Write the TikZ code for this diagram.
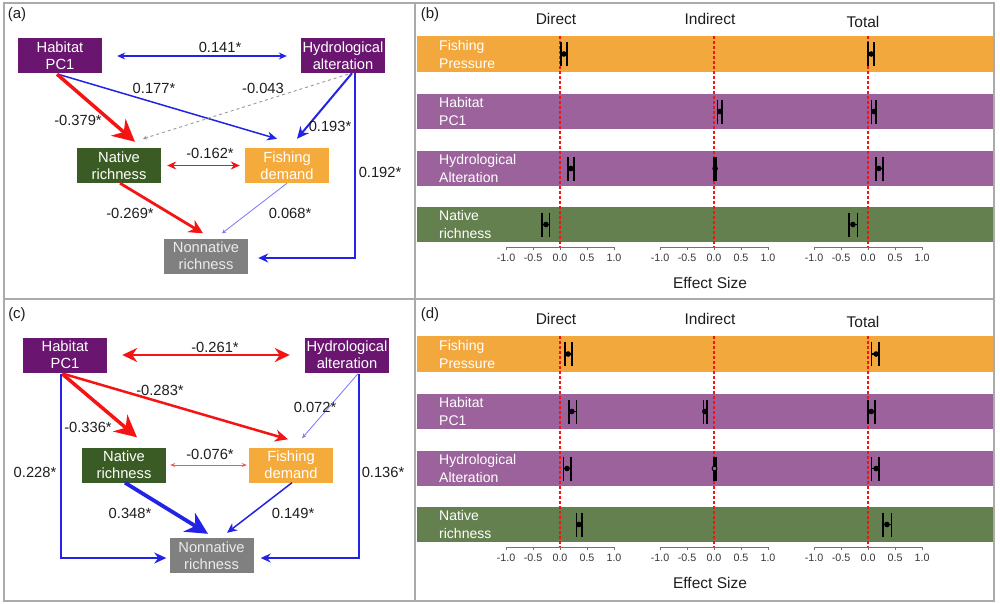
\documentclass[tikz,border=0pt]{standalone}
\usepackage{fontspec}
\setmainfont{Liberation Sans}
\usetikzlibrary{arrows.meta,calc}
\definecolor{boxpurple}{RGB}{106,22,112}
\definecolor{boxgreen}{RGB}{58,92,36}
\definecolor{boxorange}{RGB}{245,170,60}
\definecolor{boxgray}{RGB}{128,128,128}
\definecolor{bandorange}{RGB}{242,168,60}
\definecolor{bandpurple}{RGB}{156,98,156}
\definecolor{bandgreen}{RGB}{99,128,78}
\definecolor{pred}{RGB}{245,20,20}
\definecolor{pblue}{RGB}{35,35,230}
\definecolor{lblue}{RGB}{120,120,250}
\definecolor{lred}{RGB}{240,90,90}
\definecolor{framegray}{RGB}{170,170,170}
\definecolor{txt}{RGB}{30,30,30}
\newcommand\errbar[5]{%
  \draw[ebline] ({#1+54*(#3)},{#2-12}) -- ({#1+54*(#3)},{#2+12});
  \draw[ebline] ({#1+54*(#5)},{#2-12}) -- ({#1+54*(#5)},{#2+12});
  \draw[ebline] ({#1+54*(#3)},#2) -- ({#1+54*(#5)},#2);
  \fill ({#1+54*(#4)},#2) circle (2.8);}
\newcommand\forestframe{%
  \fill[bandorange] (417,36) rectangle (993,72);
  \fill[bandpurple] (417,94) rectangle (993,129);
  \fill[bandpurple] (417,151) rectangle (993,186);
  \fill[bandgreen] (417,207) rectangle (993,242);
  \node[bandlab] (l1) at (439,54) {Fishing\\Pressure};
  \node[bandlab] (l2) at (439,111.5) {Habitat\\PC1};
  \node[bandlab] (l3) at (439,168.5) {Hydrological\\Alteration};
  \node[bandlab] (l4) at (439,224.5) {Native\\richness};
  \node[head] (hd) at (556,19) {Direct};
  \node[head] (hi) at (710,19) {Indirect};
  \node[head] (ht) at (863,22) {Total};
  \foreach \z in {560,714,868}{
    \draw[zeroline] (\z,36) -- (\z,247);
    \draw[axisline] ({\z-54},247) -- ({\z+54},247);
    \foreach \t/\s in {-1/-1.0,-0.5/-0.5,0/0.0,0.5/0.5,1/1.0}{
      \draw[axisline] ({\z+54*(\t)},247) -- ({\z+54*(\t)},250);
      \node[tick] at ({\z+54*(\t)},257.5) {\s};}}
  \node[head] (es) at (710,283) {Effect Size};}
\begin{document}
\begin{tikzpicture}[x=1pt,y=-1pt,
  box/.style={rectangle, minimum width=84pt, minimum height=35pt, inner sep=1pt, text=white, align=center, font=\fontsize{14.7}{17}\selectfont},
  lab/.style={font=\fontsize{14.7}{17}\selectfont, text=txt, inner sep=0pt},
  plabel/.style={font=\fontsize{15}{18}\selectfont, text=txt, inner sep=0pt},
  bandlab/.style={anchor=west, align=left, text=white, font=\fontsize{14}{18}\selectfont, inner sep=0pt},
  head/.style={font=\fontsize{15.5}{18}\selectfont, text=txt, inner sep=0pt},
  tick/.style={font=\fontsize{10.7}{12}\selectfont, text=black!78, inner sep=0pt},
  zeroline/.style={pred, line width=1.7pt, dash pattern=on 2.5pt off 2.5pt},
  axisline/.style={black!55, line width=0.7pt},
  ebline/.style={black, line width=1.4pt},
]
\useasboundingbox (0,0) rectangle (1000,603);
\fill[white] (0,0) rectangle (1000,603);

% ---------- panel (a)
\node[plabel] (pa) at (17,15) {(a)};
\node[box, fill=boxpurple] (hab) at (60,55.5) {Habitat\\PC1};
\node[box, fill=boxpurple] (hyd) at (343,55.5) {Hydrological\\alteration};
\node[box, fill=boxgreen] (nat) at (119,165.5) {Native\\richness};
\node[box, fill=boxorange] (fis) at (287,165.5) {Fishing\\demand};
\node[box, fill=boxgray, text=white!92!black] (non) at (206,256) {Nonnative\\richness};

\draw[pblue, line width=1.2pt, {Stealth[length=8pt,width=7pt]}-{Stealth[length=8pt,width=7pt]}, shorten <=15pt, shorten >=14pt] (hab.east |- 0,56) -- (hyd.west |- 0,56);
\draw[pblue, line width=1.5pt, -{Stealth[length=10pt,width=9pt]}] ($(hab.south)+(-2,1)$) -- ($(fis.north)+(-10,-9)$);
\draw[pred, line width=3.5pt, -{Stealth[length=22pt,width=22pt]}] ($(hab.south)+(-3,1)$) -- ($(nat.north)+(16,-6)$);
\draw[black!40, line width=0.9pt, dashed, -{Stealth[length=4pt,width=4pt]}] ($(hyd.south)+(5,1)$) -- ($(nat.north)+(24,-9)$);
\draw[pblue, line width=2pt, -{Stealth[length=12pt,width=11pt]}] ($(hyd.south)+(9,0)$) -- ($(fis.north)+(10,-9)$);
\draw[pblue, line width=1.5pt, -{Stealth[length=10pt,width=9pt]}] ($(hyd.south)+(12,0)$) |- ($(non.east)+(10,2)$);
\draw[pred, line width=1.5pt, {Stealth[length=9pt,width=8pt]}-{Stealth[length=9pt,width=8pt]}, shorten <=6pt, shorten >=5pt] (nat.east) -- (fis.west);
\draw[pred, line width=2.8pt, -{Stealth[length=14pt,width=14pt]}] ($(nat.south)+(1,0)$) -- ($(non.north)+(-3,-5)$);
\draw[lblue, line width=0.8pt, -{Stealth[length=4pt,width=4pt]}] (fis.south) -- ($(non.north)+(16,-5)$);

\node[lab] (a1) at (220,47) {0.141*};
\node[lab] (a2) at (154,88) {0.177*};
\node[lab] (a3) at (263,88) {-0.043};
\node[lab] (a4) at (78,120) {-0.379*};
\node[lab] (a5) at (330,126) {0.193*};
\node[lab] (a6) at (380,172) {0.192*};
\node[lab] (a7) at (210,153) {-0.162*};
\node[lab] (a8) at (130,213) {-0.269*};
\node[lab] (a9) at (290,213) {0.068*};

% ---------- panel (c)
\node[plabel] (pc) at (17,315) {(c)};
\node[box, fill=boxpurple] (chab) at (65,355) {Habitat\\PC1};
\node[box, fill=boxpurple] (chyd) at (347,355) {Hydrological\\alteration};
\node[box, fill=boxgreen] (cnat) at (124,465) {Native\\richness};
\node[box, fill=boxorange] (cfis) at (291,465) {Fishing\\demand};
\node[box, fill=boxgray, text=white!92!black] (cnon) at (211.5,555.5) {Nonnative\\richness};

\draw[pred, line width=2.8pt, {Stealth[length=15pt,width=14pt]}-{Stealth[length=15pt,width=14pt]}, shorten <=15pt, shorten >=15pt] (chab.east) -- (chyd.west);
\draw[pred, line width=3.5pt, -{Stealth[length=22pt,width=22pt]}] ($(chab.south)+(-3,1)$) -- ($(cnat.north)+(13,-10)$);
\draw[pred, line width=2.5pt, -{Stealth[length=13pt,width=12pt]}] ($(chab.south)+(-2,1)$) -- ($(cfis.north)+(-3,-8)$);
\draw[lblue, line width=0.8pt, -{Stealth[length=5pt,width=4pt]}] ($(chyd.south)+(11,1)$) -- ($(cfis.north)+(11,-9)$);
\draw[pblue, line width=1.5pt, -{Stealth[length=12pt,width=11pt]}] ($(chab.south)+(-4,1)$) |- ($(cnon.west)+(-3,2.5)$);
\draw[pblue, line width=1.2pt, -{Stealth[length=10pt,width=9pt]}] ($(chyd.south)+(12,1)$) |- ($(cnon.east)+(7,2.5)$);
\draw[lred, line width=0.8pt, {Stealth[length=5pt,width=4pt]}-{Stealth[length=5pt,width=4pt]}, shorten <=4pt, shorten >=2pt] (cnat.east) -- (cfis.west);
\draw[pblue, line width=3.8pt, -{Stealth[length=22pt,width=22pt]}] ($(cnat.south)+(1,0)$) -- ($(cnon.north)+(-3.5,-4)$);
\draw[pblue, line width=1.5pt, -{Stealth[length=10pt,width=9pt]}] ($(cfis.south)+(1,0)$) -- ($(cnon.north)+(15.5,-5)$);

\node[lab] (c1) at (215,347) {-0.261*};
\node[lab] (c2) at (160,390) {-0.283*};
\node[lab] (c3) at (315,407) {0.072*};
\node[lab] (c4) at (88,427) {-0.336*};
\node[lab] (c5) at (35,472) {0.228*};
\node[lab] (c6) at (383,472) {0.136*};
\node[lab] (c7) at (210,454) {-0.076*};
\node[lab] (c8) at (130,513) {0.348*};
\node[lab] (c9) at (293,513) {0.149*};

% ---------- panel (b)
\node[plabel] (pb) at (430,15) {(b)};
\begin{scope}
\forestframe
\errbar{560}{54}{0.02}{0.07}{0.13}
\errbar{868}{54}{0.0}{0.06}{0.11}
\errbar{714}{111.5}{0.07}{0.11}{0.15}
\errbar{868}{111.5}{0.07}{0.11}{0.15}
\errbar{560}{168.5}{0.15}{0.2}{0.26}
\errbar{714}{168.5}{0.0}{0.02}{0.04}
\errbar{868}{168.5}{0.15}{0.2}{0.28}
\errbar{560}{224.5}{-0.33}{-0.26}{-0.2}
\errbar{868}{224.5}{-0.35}{-0.28}{-0.2}
\end{scope}

% ---------- panel (d)
\node[plabel] (pd) at (430,315) {(d)};
\begin{scope}[shift={(0,300)}]
\forestframe
\errbar{560}{54}{0.09}{0.15}{0.22}
\errbar{868}{54}{0.07}{0.15}{0.2}
\errbar{560}{111.5}{0.17}{0.22}{0.3}
\errbar{714}{111.5}{-0.2}{-0.17}{-0.13}
\errbar{868}{111.5}{0.0}{0.06}{0.13}
\errbar{560}{168.5}{0.07}{0.13}{0.2}
\errbar{868}{168.5}{0.07}{0.15}{0.2}
\errbar{560}{224.5}{0.3}{0.35}{0.41}
\errbar{868}{224.5}{0.28}{0.35}{0.43}
\draw[ebline] (714,156.5) -- (714,180.5);
\draw[ebline] (716,156.5) -- (716,180.5);
\draw[black, line width=1pt, fill=bandpurple] (714.5,168.5) circle (2.4);
\end{scope}

% ---------- frame
\draw[framegray, line width=1.3pt] (4,3) rectangle (994,601);
\draw[framegray, line width=1.3pt] (415,3) -- (415,601);
\draw[framegray, line width=1.3pt] (4,299) -- (994,299);
\end{tikzpicture}
\end{document}
